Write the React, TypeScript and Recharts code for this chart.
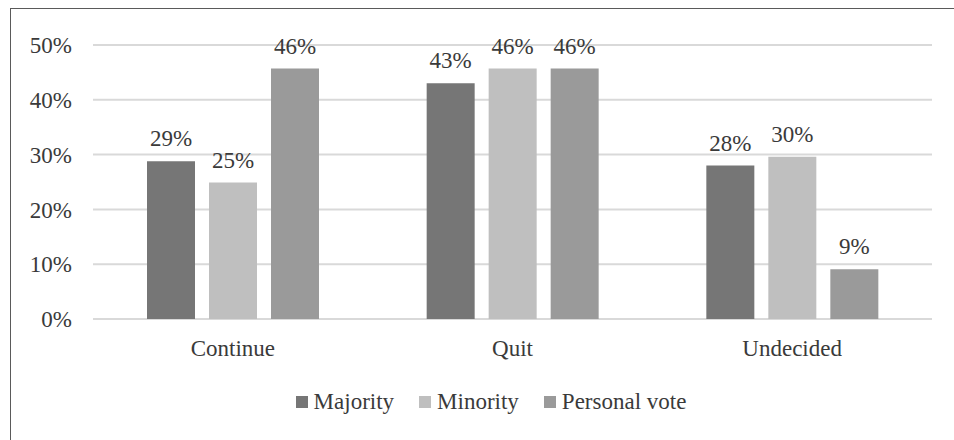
import { BarChart, Bar, XAxis, YAxis, CartesianGrid, Legend, LabelList } from 'recharts';

const categories = ['Continue', 'Quit', 'Undecided'];
const majority = [28.8, 43, 28];
const minority = [24.9, 45.7, 29.6];
const personalVote = [45.7, 45.7, 9.1];
const yTicks = [0, 10, 20, 30, 40, 50];

const series = [
  { key: 'majority', name: 'Majority', color: '#767676', values: majority },
  { key: 'minority', name: 'Minority', color: '#bfbfbf', values: minority },
  { key: 'personal', name: 'Personal vote', color: '#9a9a9a', values: personalVote },
];

const data = categories.map((c, i) => ({
  category: c,
  majority: majority[i],
  minority: minority[i],
  personal: personalVote[i],
}));

const FONT = "'Liberation Serif'";
const FS = 23;
const TEXT = '#3a3a3a';

function LegendContent({ payload }: any) {
  const items = payload || [];
  return (
    <div style={{ height: 48, display: 'flex', justifyContent: 'center', alignItems: 'flex-start' }}>
      <div style={{ display: 'flex', alignItems: 'center', height: 20, marginLeft: 50 }}>
        {items.map((p: any, i: number) => (
          <div
            key={p.value}
            style={{ display: 'flex', alignItems: 'center', marginRight: i < items.length - 1 ? 25 : 0 }}
          >
            <span style={{ width: 12, height: 12, background: p.color, marginRight: 6, display: 'inline-block' }} />
            <span style={{ fontFamily: FONT, fontSize: FS, color: TEXT, lineHeight: '20px' }}>{p.value}</span>
          </div>
        ))}
      </div>
    </div>
  );
}

export default function App() {
  return (
    <div
      style={{
        position: 'absolute',
        top: 0,
        left: 0,
        width: 954,
        height: 440,
        background: '#fff',
        overflow: 'hidden',
        fontFamily: FONT,
      }}
    >
      {/* outer frame: only top and left edges are visible in the crop */}
      <div
        style={{
          position: 'absolute',
          left: 10,
          top: 8,
          width: 960,
          height: 450,
          borderTop: '1px solid #5a5a5a',
          borderLeft: '1px solid #5a5a5a',
        }}
      />
      <BarChart
        width={954}
        height={440}
        data={data}
        margin={{ top: 45, right: 22, left: 0, bottom: 0 }}
        barSize={48}
        barGap={14}
        style={{ position: 'absolute', top: 0, left: 0 }}
      >
        <CartesianGrid vertical={false} stroke="#d9d9d9" strokeWidth={2} />
        <XAxis
          dataKey="category"
          axisLine={false}
          tickLine={false}
          tickSize={0}
          tickMargin={21}
          height={73}
          tick={{ fill: TEXT, fontFamily: FONT, fontSize: FS }}
        />
        <YAxis
          width={93}
          domain={[0, 50]}
          ticks={yTicks}
          axisLine={false}
          tickLine={false}
          tickSize={0}
          tickMargin={21}
          tickFormatter={(v: number) => `${v}%`}
          tick={{ fill: TEXT, fontFamily: FONT, fontSize: FS }}
        />
        <Legend verticalAlign="bottom" height={48} content={<LegendContent />} />
        {series.map((s) => (
          <Bar key={s.key} dataKey={s.key} name={s.name} fill={s.color} isAnimationActive={false}>
            <LabelList
              dataKey={s.key}
              position="top"
              offset={15}
              formatter={(v: any) => `${Math.round(v)}%`}
              fill={TEXT}
              fontFamily={FONT}
              fontSize={FS}
            />
          </Bar>
        ))}
      </BarChart>
    </div>
  );
}
